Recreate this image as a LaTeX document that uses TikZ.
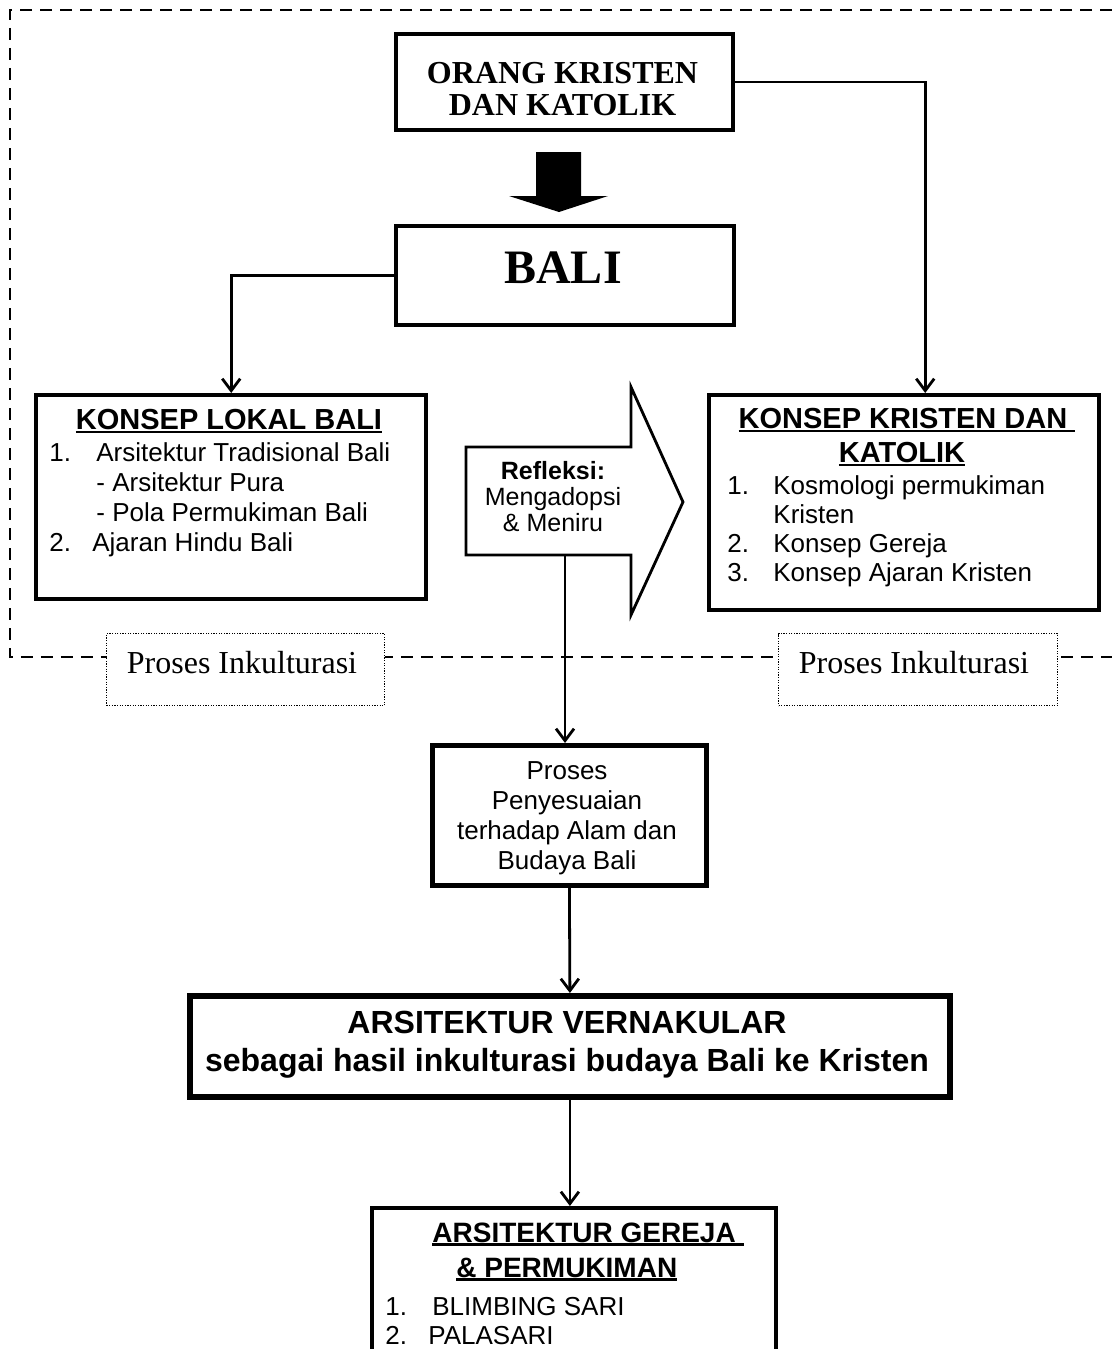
\documentclass[tikz,border=0pt]{standalone}
\usepackage{fontspec}
\setmainfont{Liberation Sans}
\newfontfamily\serifbali{Liberation Serif}
\usetikzlibrary{calc,arrows.meta}
\newsavebox{\garisbox}
\newcommand{\garis}[1]{\sbox{\garisbox}{#1}\rlap{\rule[-1.9pt]{\wd\garisbox}{1.3pt}}\usebox{\garisbox}}
\tikzset{
	kotak/.style={draw, line width=2pt, fill=white, inner sep=0pt, anchor=north west},
	inkbox/.style={draw, line width=0.6pt, dash pattern=on 0.6pt off 0.7pt, fill=white, inner sep=0pt, anchor=north west},
	teks/.style={inner sep=0pt},
	conn/.style={line width=1.4pt, -{Straight Barb[length=6pt,width=9pt]}},
}

\begin{document}
\begin{tikzpicture}[x=0.5pt, y=-0.5pt]
		%%%%% START %%%%%
		\useasboundingbox (0,0) rectangle (1112,1349);
		\clip (0,0) rectangle (1112,1349);
		
		% bingkai
		\draw[line width=1.4pt, dash pattern=on 6pt off 4pt] (1112,10) -- (10,10) -- (10,657) -- (1112,657);
		
		\node[kotak, minimum width=168.5pt, minimum height=48pt] (orang) at (394,32) {};
		\node[teks, align=center, anchor=north, font=\serifbali\bfseries\fontsize{16}{15}\selectfont] (orang-t) at (562.5,61.5) {\strut ORANG KRISTEN\\\strut DAN KATOLIK};
		
		\fill (536,152) -- (581,152) -- (581,196) -- (608,196) -- (559,212) -- (509,196) -- (536,196) -- cycle;
		
		\node[kotak, minimum width=169pt, minimum height=49.5pt] (bali) at (394,224) {};
		\node[teks, anchor=base, font=\serifbali\bfseries\fontsize{24}{28}\selectfont] (bali-t) at (563,283) {BALI};
		
		% konsep lokal
		\node[kotak, line width=2.2pt, minimum width=195pt, minimum height=102pt] (lokal) at (34,393) {};
		\node[teks, anchor=base, font=\bfseries\fontsize{14.5}{17}\selectfont] (lokal-judul) at (229,429.4) {\garis{KONSEP LOKAL BALI}};
		\node[teks, align=left, anchor=north west, font=\fontsize{13}{15}\selectfont] (lokal-isi) at (49,440.3) {\strut\makebox[23.5pt][l]{1.}Arsitektur Tradisional Bali\\ \strut\hspace*{23.5pt}- Arsitektur Pura\\ \strut\hspace*{23.5pt}- Pola Permukiman Bali\\ \strut\makebox[21.5pt][l]{2.}Ajaran Hindu Bali};
		
		% konsep kristen
		\node[kotak, line width=2.2pt, minimum width=195pt, minimum height=107.5pt] (kristen) at (707,393) {};
		\node[teks, anchor=base, font=\bfseries\fontsize{14.5}{17}\selectfont] (kristen-judul) at (907,428.4) {\garis{KONSEP KRISTEN DAN\ }};
		\node[teks, anchor=base, font=\bfseries\fontsize{14.5}{17}\selectfont] (kristen-judul2) at (902,462.4) {\garis{KATOLIK}};
		\node[teks, align=left, anchor=north west, font=\fontsize{13}{14.5}\selectfont] (kristen-isi) at (727,474) {\strut\makebox[23pt][l]{1.}Kosmologi permukiman\\ \strut\hspace*{23pt}Kristen\\ \strut\makebox[23pt][l]{2.}Konsep Gereja\\ \strut\makebox[23pt][l]{3.}Konsep Ajaran Kristen};
		
		% refleksi
		\draw[line width=1.4pt, fill=white, line join=miter] (466,447) -- (631,447) -- (631,387) -- (683,502) -- (631,615) -- (631,555) -- (466,555) -- cycle;
		\coordinate (refl-out) at (565,555);
		\node[teks, align=center, anchor=north, font=\fontsize{12.5}{13}\selectfont] (refleksi) at (553,460.4) {\strut\textbf{Refleksi:}\\\strut Mengadopsi\\\strut \& Meniru};
		
		% proses inkulturasi
		\node[inkbox, minimum width=139pt, minimum height=36pt] (ink1) at (106,633) {};
		\node[teks, anchor=base, font=\serifbali\fontsize{16}{19}\selectfont] (ink1-t) at (242,673.6) {Proses Inkulturasi};
		\node[inkbox, minimum width=139.5pt, minimum height=36pt] (ink2) at (778,633) {};
		\node[teks, anchor=base, font=\serifbali\fontsize{16}{19}\selectfont] (ink2-t) at (914,673.6) {Proses Inkulturasi};
		
		\node[kotak, line width=2.4pt, minimum width=137pt, minimum height=70pt] (proses) at (430,743) {};
		\node[teks, align=center, anchor=north, font=\fontsize{13}{15}\selectfont] (proses-t) at (567,758.3) {\strut Proses\\\strut Penyesuaian\\\strut terhadap Alam dan\\\strut Budaya Bali};
		
		\node[kotak, line width=2.9pt, minimum width=380pt, minimum height=50.5pt] (vern) at (187,993) {};
		\node[teks, align=center, anchor=north, font=\bfseries\fontsize{16}{19}\selectfont] (vern-t) at (567,1006.9) {\strut ARSITEKTUR VERNAKULAR\\\strut sebagai hasil inkulturasi budaya Bali ke Kristen};
		
		\node[kotak, minimum width=202pt, minimum height=77.5pt] (gereja) at (370,1206) {};
		\node[teks, anchor=base west, font=\bfseries\fontsize{14}{17}\selectfont] (gereja-judul) at (432,1242) {\garis{ARSITEKTUR GEREJA\ }};
		\node[teks, anchor=base west, font=\bfseries\fontsize{14}{17}\selectfont] (gereja-judul2) at (456,1277) {\garis{\& PERMUKIMAN}};
		\node[teks, align=left, anchor=north west, font=\fontsize{13}{14.5}\selectfont] (gereja-isi) at (385,1295) {\strut\makebox[23.5pt][l]{1.}BLIMBING SARI\\ \makebox[21.5pt][l]{2.}PALASARI};
		
		% panah
		\draw[conn] (orang.east) -| ($(kristen.north)+(21,0)$);
		\draw[conn] (bali.west) -| (lokal.north);
		\draw[conn] (refl-out) -- (refl-out |- proses.north);
		\draw[conn] (proses.south) -- (vern.north);
		\draw[conn] (vern.south) -- (vern.south |- gereja.north);
		
		%%%%% END %%%%%
\end{tikzpicture}
\end{document}
